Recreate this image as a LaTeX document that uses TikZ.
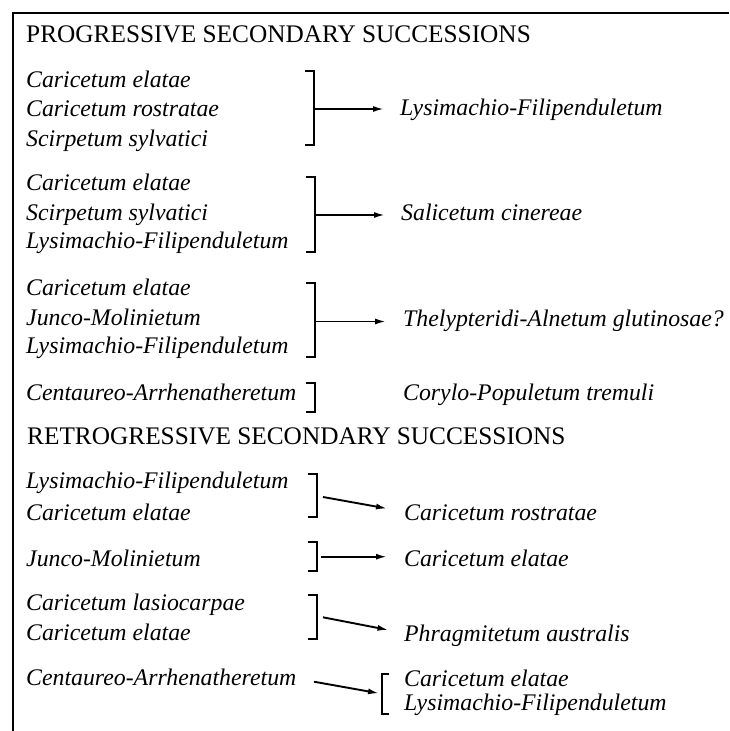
\documentclass[tikz,border=0pt]{standalone}
\usepackage{fontspec}
\setmainfont{Liberation Serif}
\usetikzlibrary{arrows.meta}
\tikzset{
  lab/.style={anchor=base west, inner sep=0pt, font=\itshape\fontsize{23.8}{28}\selectfont},
  headline/.style={anchor=base west, inner sep=0pt, font=\fontsize{25.3}{30}\selectfont},
  brk/.style={line width=2pt},
  frameline/.style={line width=2pt},
  arr/.style={line width=1.9pt, -{Latex[length=11pt,width=6pt]}}
}
\begin{document}
\begin{tikzpicture}[x=1pt,y=-1pt]
\useasboundingbox (0,0) rectangle (729,731);
% frame
\coordinate (fr1) at (729,13);
\coordinate (fr2) at (13,13);
\coordinate (fr3) at (13,731);
\draw[frameline] (fr1) -- (fr2) -- (fr3);

% ---------- progressive ----------
\node[headline] (h1) at (26,42.7) {PROGRESSIVE SECONDARY SUCCESSIONS};

% group 1
\node[lab] (a1) at (26,87.3) {Caricetum elatae};
\node[lab] (a2) at (26,116.7) {Caricetum rostratae};
\node[lab] (a3) at (26,146.3) {Scirpetum sylvatici};
\node[lab] (ta) at (400,115.5) {Lysimachio-Filipenduletum};
\draw[brk] (305,71) -- (314,71) -- (314,145) -- (305,145);
\coordinate (ga) at (314,109);
\coordinate (ea) at (384,109);
\draw[arr] (ga) -- (ea);

% group 2
\node[lab] (b1) at (26,190.7) {Caricetum elatae};
\node[lab] (b2) at (26,220) {Scirpetum sylvatici};
\node[lab] (b3) at (26,248.5) {Lysimachio-Filipenduletum};
\node[lab] (tb) at (401,220.5) {Salicetum cinereae};
\draw[brk] (306,177) -- (315,177) -- (315,252) -- (306,252);
\coordinate (gb) at (315,215);
\coordinate (eb) at (385,215);
\draw[arr] (gb) -- (eb);

% group 3
\node[lab] (c1) at (26,295) {Caricetum elatae};
\node[lab] (c2) at (26,325) {Junco-Molinietum};
\node[lab] (c3) at (26,353.3) {Lysimachio-Filipenduletum};
\node[lab] (tc) at (403,326) {Thelypteridi-Alnetum glutinosae?};
\draw[brk] (306,283) -- (315,283) -- (315,357) -- (306,357);
\coordinate (gc) at (315,321.5);
\coordinate (ec) at (386,321.5);
\draw[arr] (gc) -- (ec);

% row 4
\node[lab] (d1) at (26,400) {Centaureo-Arrhenatheretum};
\node[lab] (td) at (403,400.7) {Corylo-Populetum tremuli};
\draw[brk] (306,383) -- (315,383) -- (315,412) -- (306,412);

% ---------- retrogressive ----------
\node[headline] (h2) at (27,444) {RETROGRESSIVE SECONDARY SUCCESSIONS};

% retro 1
\node[lab] (e1) at (26,488) {Lysimachio-Filipenduletum};
\node[lab] (e2) at (26,520) {Caricetum elatae};
\node[lab] (te) at (404,520) {Caricetum rostratae};
\draw[brk] (308,473.5) -- (317,473.5) -- (317,517) -- (308,517);
\coordinate (ge) at (323,497);
\coordinate (ee) at (387,508.5);
\draw[arr] (ge) -- (ee);

% retro 2
\node[lab] (f1) at (26,566) {Junco-Molinietum};
\node[lab] (tf) at (404,566.7) {Caricetum elatae};
\draw[brk] (308,542) -- (317,542) -- (317,571) -- (308,571);
\coordinate (gf) at (321,556.7);
\coordinate (ef) at (387,556.7);
\draw[arr] (gf) -- (ef);

% retro 3
\node[lab] (g1) at (26,610) {Caricetum lasiocarpae};
\node[lab] (g2) at (26,640) {Caricetum elatae};
\node[lab] (tg) at (404,641.7) {Phragmitetum australis};
\draw[brk] (308,595) -- (317,595) -- (317,638.5) -- (308,638.5);
\coordinate (gg) at (323,617.3);
\coordinate (eg) at (388.5,630);
\draw[arr] (gg) -- (eg);

% retro 4
\node[lab] (k1) at (26,685) {Centaureo-Arrhenatheretum};
\node[lab] (tk1) at (404,686.7) {Caricetum elatae};
\node[lab] (tk2) at (404,710.5) {Lysimachio-Filipenduletum};
\draw[brk] (389,673.5) -- (382,673.5) -- (382,713.5) -- (389,713.5);
\coordinate (gk) at (314,681.7);
\coordinate (ek) at (379,693.3);
\draw[arr] (gk) -- (ek);
\end{tikzpicture}
\end{document}
